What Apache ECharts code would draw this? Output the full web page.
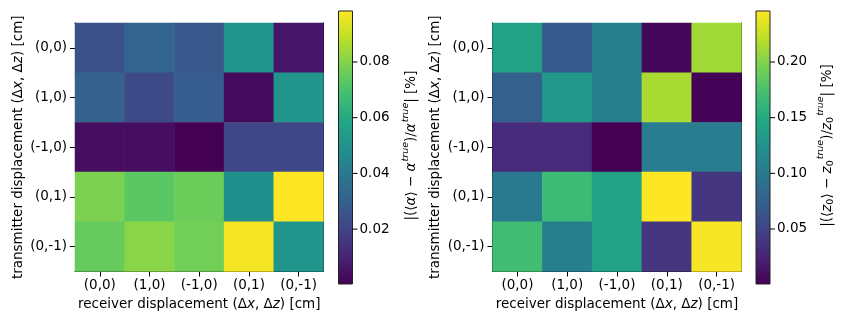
<!DOCTYPE html>
<html><head><meta charset="utf-8">
<script src="https://cdn.jsdelivr.net/npm/echarts@6/dist/echarts.min.js"></script>
<style>html,body{margin:0;padding:0;background:#fff}#c{width:847px;height:318px}</style>
</head><body><div id="c"></div>
<script>
// ---- data ----
const categories = ['(0,0)', '(1,0)', '(-1,0)', '(0,1)', '(0,-1)'];
// rows = transmitter displacement, columns = receiver displacement
const alphaRows = [
  [0.0248, 0.0317, 0.0270, 0.0510, 0.0060],
  [0.0310, 0.0220, 0.0290, 0.0030, 0.0510],
  [0.0040, 0.0040, 0.0003, 0.0210, 0.0210],
  [0.0790, 0.0730, 0.0760, 0.0490, 0.0983],
  [0.0750, 0.0810, 0.0770, 0.0970, 0.0510]
];
const z0Rows = [
  [0.1400, 0.0690, 0.1060, 0.0050, 0.2110],
  [0.0740, 0.1310, 0.1060, 0.2140, 0.0030],
  [0.0300, 0.0300, 0.0006, 0.1040, 0.1040],
  [0.1010, 0.1670, 0.1400, 0.2458, 0.0400],
  [0.1690, 0.1060, 0.1400, 0.0370, 0.2430]
];
const alphaRange = [0.0003, 0.0983];
const z0Range = [0.0006, 0.2458];
const alphaTicks = [0.02, 0.04, 0.06, 0.08];
const z0Ticks = [0.05, 0.10, 0.15, 0.20];
const alphaAxisMax = 0.1, alphaInterval = 0.02;
const z0AxisMax = 0.25, z0Interval = 0.05;

const viridis = ['#440154', '#482475', '#414487', '#355f8d', '#2a788e', '#21918c',
                 '#22a884', '#44bf70', '#7ad151', '#bddf26', '#fde725'];

// ---- layout ----
const FONT = 'DejaVu Sans';
const FS = 13.5;
const panels = [
  { rows: alphaRows, range: alphaRange, ticks: alphaTicks, axisMax: alphaAxisMax, interval: alphaInterval,
    hm: { left: 75, top: 23, width: 248.5, height: 248.5 },
    cb: { left: 338.5, top: 11, bottom: 284, width: 14 },
    cbName: '{n||(⟨}{i|α}{n|⟩ − }{i|α}{sup|true}{n|)/}{i|α}{sup|true}{n|| [%]}',
    cbGap: 48 },
  { rows: z0Rows, range: z0Range, ticks: z0Ticks, axisMax: z0AxisMax, interval: z0Interval,
    hm: { left: 492.5, top: 23, width: 249, height: 248.5 },
    cb: { left: 756, top: 11, bottom: 284, width: 14 },
    cbName: '{n||(⟨}{i|z}{sub|0}{n|⟩ − }{i|z}{sub|0}{sup|true}{n|)/}{i|z}{sub|0}{sup|true}{n|| [%]}',
    cbGap: 46 }
];

const richMath = {
  n: { fontFamily: FONT, fontSize: FS, color: '#000', lineHeight: 14, padding: [4, 0, 0, 0], verticalAlign: 'top' },
  i: { fontFamily: FONT, fontSize: FS, color: '#000', fontStyle: 'italic', lineHeight: 14, padding: [4, 0, 0, 0], verticalAlign: 'top' },
  sup: { fontFamily: FONT, fontSize: 9.5, color: '#000', fontStyle: 'italic', lineHeight: 9, padding: [0, 0, 0, 1], verticalAlign: 'top' },
  sub: { fontFamily: FONT, fontSize: 9.5, color: '#000', lineHeight: 9, padding: [10, 0, 0, 0], verticalAlign: 'top' }
};
const richPlain = {
  n: { fontFamily: FONT, fontSize: FS, color: '#000' },
  i: { fontFamily: FONT, fontSize: FS, color: '#000', fontStyle: 'italic' }
};

const grid = [], xAxis = [], yAxis = [], series = [], visualMap = [];
const black = { color: '#000', width: 1 };

panels.forEach((p, k) => {
  const gHm = grid.length;
  grid.push({ left: p.hm.left, top: p.hm.top, width: p.hm.width, height: p.hm.height });
  const ppu = (p.cb.bottom - p.cb.top) / (p.range[1] - p.range[0]);
  const gCb = grid.length;
  grid.push({ left: p.cb.left, top: p.cb.top - (p.axisMax - p.range[1]) * ppu,
              width: p.cb.width, height: p.axisMax * ppu });

  const xBottom = xAxis.length;
  xAxis.push({
    gridIndex: gHm, type: 'category', data: categories, position: 'bottom',
    axisLine: { show: true, lineStyle: black },
    axisTick: { show: true, alignWithLabel: true, length: 5, lineStyle: black },
    axisLabel: { fontFamily: FONT, fontSize: FS, color: '#000', margin: 7 },
    splitLine: { show: false },
    name: '{n|receiver displacement (Δ}{i|x}{n|, Δ}{i|z}{n|) [cm]}',
    nameLocation: 'middle', nameGap: 22, nameTextStyle: { rich: richPlain }
  });
  xAxis.push({
    gridIndex: gHm, type: 'category', data: categories, position: 'top',
    axisLine: { show: true, lineStyle: black }, axisTick: { show: false }, axisLabel: { show: false }
  });
  const xCb = xAxis.length;
  xAxis.push({ gridIndex: gCb, type: 'value', min: 0, max: 1, show: false });

  const yLeft = yAxis.length;
  yAxis.push({
    gridIndex: gHm, type: 'category', data: categories, inverse: true, position: 'left',
    axisLine: { show: true, lineStyle: black },
    axisTick: { show: true, alignWithLabel: true, length: 5, lineStyle: black },
    axisLabel: { fontFamily: FONT, fontSize: FS, color: '#000', margin: 8 },
    splitLine: { show: false },
    name: '{n|transmitter displacement (Δ}{i|x}{n|, Δ}{i|z}{n|) [cm]}',
    nameLocation: 'middle', nameGap: 50, nameRotate: 90, nameTextStyle: { rich: richPlain }
  });
  yAxis.push({
    gridIndex: gHm, type: 'category', data: categories, inverse: true, position: 'right',
    axisLine: { show: true, lineStyle: black }, axisTick: { show: false }, axisLabel: { show: false }
  });
  const yCb = yAxis.length;
  yAxis.push({
    gridIndex: gCb, type: 'value', min: 0, max: p.axisMax, interval: p.interval, position: 'right',
    axisLine: { show: false }, axisTick: { show: false }, splitLine: { show: false },
    axisLabel: { fontFamily: FONT, fontSize: FS, color: '#000', margin: 7,
                 showMinLabel: false, showMaxLabel: false, formatter: v => v.toFixed(2) },
    name: p.cbName, nameLocation: 'middle', nameGap: p.cbGap, nameRotate: 90,
    nameTextStyle: { rich: richMath }
  });

  const data = [];
  p.rows.forEach((row, r) => row.forEach((v, c) => data.push([c, r, v])));
  const sHm = series.length;
  series.push({
    type: 'heatmap', xAxisIndex: xBottom, yAxisIndex: yLeft, data: data,
    itemStyle: { borderWidth: 0 }, emphasis: { disabled: true }, progressive: 0
  });
  visualMap.push({
    type: 'continuous', show: false, seriesIndex: sHm, dimension: 2,
    min: p.range[0], max: p.range[1], inRange: { color: viridis }
  });

  // colorbar body
  const stops = viridis.map((c, i) => ({ offset: 1 - i / (viridis.length - 1), color: c })).reverse();
  series.push({
    type: 'custom', xAxisIndex: xCb, yAxisIndex: yCb, silent: true, clip: false,
    data: [[0, p.range[0], 1, p.range[1]]],
    renderItem: (params, api) => {
      const a = api.coord([api.value(0), api.value(3)]);
      const b = api.coord([api.value(2), api.value(1)]);
      return {
        type: 'rect', shape: { x: a[0], y: a[1], width: b[0] - a[0], height: b[1] - a[1] },
        style: { fill: new echarts.graphic.LinearGradient(0, 0, 0, 1, stops), stroke: '#222', lineWidth: 1 }
      };
    }
  });
  // colorbar ticks
  series.push({
    type: 'custom', xAxisIndex: xCb, yAxisIndex: yCb, silent: true, clip: false,
    data: p.ticks.map(v => [1, v]),
    renderItem: (params, api) => {
      const q = api.coord([api.value(0), api.value(1)]);
      return { type: 'line', shape: { x1: q[0], y1: q[1], x2: q[0] + 5, y2: q[1] },
               style: { stroke: '#000', lineWidth: 1 } };
    }
  });
});

const chart = echarts.init(document.getElementById('c'), null, { renderer: 'canvas' });
chart.setOption({
  animation: false,
  backgroundColor: '#fff',
  textStyle: { fontFamily: FONT },
  grid, xAxis, yAxis, visualMap, series
});
</script>
</body></html>
